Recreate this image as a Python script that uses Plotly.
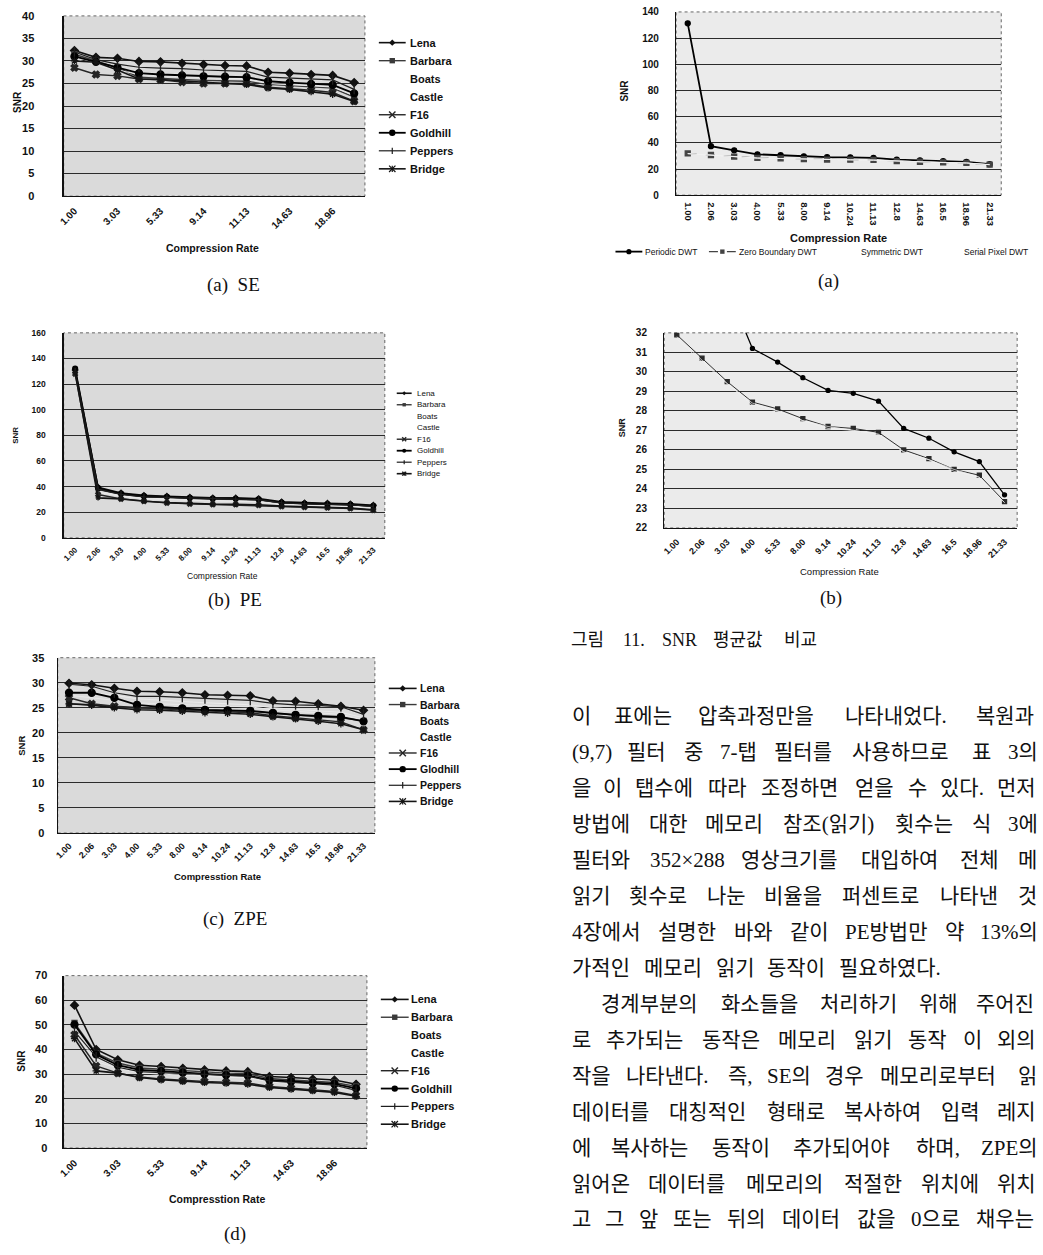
import plotly.graph_objects as go

W, H = 1043, 1255

# ---------------- data ----------------
rates = ["1.00", "2.06", "3.03", "4.00", "5.33", "8.00", "9.14",
         "10.24", "11.13", "12.8", "14.63", "16.5", "18.96", "21.33"]
images = ["Lena", "Barbara", "Boats", "Castle", "F16", "Goldhill", "Peppers", "Bridge"]
images_zpe_legend = ["Lena", "Barbara", "Boats", "Castle", "F16", "Glodhill", "Peppers", "Bridge"]
methods = ["Periodic DWT", "Zero Boundary DWT", "Symmetric DWT", "Serial Pixel DWT"]

# (a) SE
se_lena     = [32.3, 30.8, 30.6, 29.9, 29.8, 29.5, 29.2, 29.0, 28.9, 27.5, 27.3, 27.0, 26.8, 25.2]
se_barbara  = [31.5, 30.0, 28.5, 26.4, 26.1, 25.9, 25.7, 25.6, 25.5, 24.8, 24.5, 24.2, 24.0, 22.0]
se_boats    = [31.0, 29.5, 28.5, 27.5, 27.2, 27.0, 26.8, 26.6, 26.5, 25.4, 25.1, 24.8, 24.5, 22.6]
se_castle   = [30.5, 29.0, 28.0, 27.0, 26.8, 26.5, 26.3, 26.2, 26.0, 25.0, 24.8, 24.5, 24.2, 22.3]
se_f16      = [28.5, 27.0, 26.7, 26.0, 25.8, 25.3, 25.0, 25.0, 25.0, 24.2, 23.9, 23.5, 23.0, 21.1]
se_goldhill = [31.0, 29.8, 28.5, 27.3, 27.0, 26.8, 26.6, 26.5, 26.4, 25.5, 25.2, 24.9, 24.7, 22.8]
se_peppers  = [32.0, 30.3, 29.3, 28.6, 28.4, 28.3, 28.0, 27.9, 27.7, 26.4, 26.2, 25.9, 25.8, 23.7]
se_bridge   = [30.0, 29.7, 28.0, 26.0, 25.9, 25.6, 25.2, 25.0, 24.8, 24.0, 23.7, 23.2, 22.6, 21.0]

# (b) PE
pe_lena     = [131, 39.4, 35.0, 33.2, 32.5, 31.7, 31.2, 31.2, 30.7, 28.1, 27.3, 27.0, 26.5, 25.5]
pe_barbara  = [130, 37.6, 33.8, 31.7, 31.2, 30.4, 29.6, 29.6, 29.1, 26.5, 26.0, 25.5, 25.3, 24.0]
pe_boats    = [129, 36.5, 33.0, 31.0, 30.5, 29.8, 29.2, 29.0, 28.6, 26.2, 25.6, 25.1, 24.8, 23.6]
pe_castle   = [128, 35.5, 32.5, 30.5, 30.0, 29.3, 28.8, 28.6, 28.2, 25.9, 25.3, 24.8, 24.5, 23.2]
pe_f16      = [128, 33.8, 30.4, 28.6, 27.3, 26.5, 26.0, 26.0, 25.5, 24.5, 24.0, 23.5, 22.9, 21.6]
pe_goldhill = [132, 38.8, 34.5, 32.5, 32.0, 31.2, 30.6, 30.5, 30.0, 27.5, 26.8, 26.3, 26.0, 25.0]
pe_peppers  = [130, 38.0, 34.0, 32.0, 31.6, 31.0, 30.4, 30.2, 29.8, 27.3, 26.6, 26.2, 25.8, 24.6]
pe_bridge   = [129, 31.2, 30.4, 28.6, 27.5, 26.8, 26.3, 26.1, 25.8, 24.8, 24.2, 23.8, 23.2, 22.0]

# (c) ZPE
zpe_lena     = [29.9, 29.6, 28.9, 28.3, 28.2, 28.0, 27.6, 27.5, 27.4, 26.4, 26.3, 25.8, 25.3, 24.5]
zpe_barbara  = [25.8, 25.6, 25.2, 24.9, 25.0, 24.6, 24.5, 24.4, 24.3, 23.9, 23.5, 23.2, 23.0, 22.4]
zpe_boats    = [27.5, 27.0, 26.5, 26.0, 25.8, 25.6, 25.4, 25.3, 25.2, 24.6, 24.3, 24.0, 23.7, 22.6]
zpe_castle   = [28.5, 28.0, 27.5, 26.8, 26.5, 26.2, 26.0, 25.8, 25.6, 25.0, 24.7, 24.4, 24.1, 23.0]
zpe_f16      = [27.0, 25.8, 25.3, 25.0, 24.8, 24.6, 24.4, 24.3, 24.0, 23.4, 23.0, 22.6, 22.2, 20.6]
zpe_goldhill = [28.0, 28.0, 27.0, 25.6, 25.2, 24.9, 24.6, 24.5, 24.4, 24.0, 23.6, 23.4, 23.2, 22.3]
zpe_peppers  = [29.7, 29.3, 28.0, 27.3, 27.3, 27.1, 26.8, 26.6, 26.5, 25.9, 25.6, 25.5, 25.2, 23.7]
zpe_bridge   = [25.8, 25.5, 25.0, 24.6, 24.5, 24.3, 24.0, 23.9, 23.7, 23.2, 22.8, 22.3, 21.8, 20.6]

# (d)
d_lena     = [58.0, 40.0, 35.8, 33.6, 33.1, 32.4, 31.7, 31.3, 31.0, 29.0, 28.6, 28.0, 27.6, 25.9]
d_barbara  = [50.8, 38.5, 34.5, 32.5, 32.0, 31.5, 30.8, 30.4, 30.2, 28.2, 27.6, 27.0, 26.6, 25.0]
d_boats    = [48.0, 36.0, 33.0, 31.0, 30.5, 30.0, 29.5, 29.0, 28.8, 27.0, 26.5, 26.0, 25.5, 23.8]
d_castle   = [47.0, 35.0, 32.5, 30.5, 30.0, 29.5, 29.0, 28.7, 28.5, 26.8, 26.2, 25.6, 25.2, 23.5]
d_f16      = [46.0, 33.3, 30.4, 28.8, 28.0, 27.4, 27.0, 26.7, 26.4, 25.0, 24.3, 23.6, 23.0, 21.3]
d_goldhill = [50.1, 38.0, 33.6, 31.7, 31.2, 30.6, 30.0, 29.6, 29.4, 27.6, 27.0, 26.4, 26.0, 24.2]
d_peppers  = [47.4, 37.0, 32.8, 31.0, 30.6, 30.2, 29.8, 29.5, 29.2, 27.2, 26.6, 26.0, 25.5, 23.4]
d_bridge   = [44.4, 31.3, 30.4, 28.6, 27.7, 27.0, 26.6, 26.3, 25.9, 24.6, 23.9, 23.3, 22.6, 21.0]

# right column: average SNR per boundary method
dwt_periodic = [131.3, 37.4, 34.3, 31.2, 30.5, 29.7, 29.05, 28.9, 28.5, 27.1, 26.6, 25.9, 25.4, 23.7]
dwt_zero     = [31.9, 30.7, 29.5, 28.45, 28.1, 27.6, 27.2, 27.1, 26.9, 26.0, 25.55, 25.0, 24.7, 23.35]
dwt_symm     = [31.8, 30.6, 29.4, 28.4, 28.0, 27.5, 27.2, 27.0, 26.8, 25.9, 25.5, 25.0, 24.6, 23.3]
dwt_serial   = [31.7, 30.5, 29.4, 28.3, 28.0, 27.5, 27.1, 27.0, 26.8, 25.9, 25.5, 24.9, 24.6, 23.3]

body_lines = [
    "이 표에는 압축과정만을 나타내었다. 복원과",
    "(9,7) 필터 중 7-탭 필터를 사용하므로 표 3의",
    "을 이 탭수에 따라 조정하면 얻을 수 있다. 먼저",
    "방법에 대한 메모리 참조(읽기) 횟수는 식 3에",
    "필터와 352×288 영상크기를 대입하여 전체 메",
    "읽기 횟수로 나눈 비율을 퍼센트로 나타낸 것",
    "4장에서 설명한 바와 같이 PE방법만 약 13%의",
    "가적인 메모리 읽기 동작이 필요하였다.",
    "경계부분의 화소들을 처리하기 위해 주어진",
    "로 추가되는 동작은 메모리 읽기 동작 이 외의",
    "작을 나타낸다. 즉, SE의 경우 메모리로부터 읽",
    "데이터를 대칭적인 형태로 복사하여 입력 레지",
    "에 복사하는 동작이 추가되어야 하며, ZPE의",
    "읽어온 데이터를 메모리의 적절한 위치에 위치",
    "고 그 앞 또는 뒤의 데이터 값을 0으로 채우는",
]
figure_caption = "그림 11. SNR 평균값 비교"

# ---------------- layout helpers ----------------
def X(p):
    return p / W

def Y(p):
    return 1 - p / H

SANS = "Liberation Sans, Arial, sans-serif"
SERIF_KR = "Liberation Serif, Noto Sans CJK KR, serif"

fig = go.Figure()
axes = {}
shapes = []
annos = []

STYLE = {
    "Lena":     dict(color="#111111", width=1.6, symbol="diamond", msize=6, mk="diamond"),
    "Barbara":  dict(color="#3a3a3a", width=1.4, symbol="square", msize=5, mk="square"),
    "Boats":    dict(color="#e7e7e7", width=1.0, symbol=None, msize=0, mk=None),
    "Castle":   dict(color="#e9e9e9", width=1.0, symbol=None, msize=0, mk=None),
    "F16":      dict(color="#262626", width=1.4, symbol="x", msize=6, mk="x"),
    "Goldhill": dict(color="#000000", width=1.8, symbol="circle", msize=7, mk="circle"),
    "Peppers":  dict(color="#1e1e1e", width=1.2, symbol="line-ns-open", msize=7, mk="vbar"),
    "Bridge":   dict(color="#141414", width=1.6, symbol="asterisk-open", msize=6, mk="asterisk"),
    "Periodic DWT":      dict(color="#000000", width=1.8, symbol="circle", msize=5, mk="circle"),
    "Zero Boundary DWT": dict(color="#444444", width=1.2, symbol="square", msize=5, mk="square", dash="dash"),
    "Symmetric DWT":     dict(color="#efefef", width=1.0, symbol=None, msize=0, mk=None),
    "Serial Pixel DWT":  dict(color="#f1f1f1", width=1.0, symbol=None, msize=0, mk=None),
}


def add_axes(n, box, yrange, dtick, tickvals, tickangle, xfs, yfs, ystand, xstand, bg, bold=True):
    x0, x1, y0, y1 = box
    s = "" if n == 1 else str(n)
    wt = "bold" if bold else "normal"
    axes["xaxis" + s] = dict(
        domain=[X(x0), X(x1)], anchor="y" + s, type="category",
        categoryorder="array", categoryarray=rates, range=[-0.5, len(rates) - 0.5],
        tickmode="array", tickvals=tickvals, ticktext=tickvals, tickangle=tickangle,
        tickfont=dict(family=SANS, size=xfs, color="#111", weight=wt),
        showline=True, linecolor="#111", linewidth=1.2, showgrid=False,
        zeroline=False, ticks="", ticklabelstandoff=xstand, fixedrange=True)
    axes["yaxis" + s] = dict(
        domain=[Y(y1), Y(y0)], anchor="x" + s, range=yrange, dtick=dtick, tick0=yrange[0],
        tickfont=dict(family=SANS, size=yfs, color="#111", weight=wt),
        showline=True, linecolor="#111", linewidth=1.2, showgrid=True,
        gridcolor="#2b2b2b", gridwidth=1, zeroline=False, ticks="",
        ticklabelstandoff=ystand, fixedrange=True)
    shapes.append(dict(type="rect", xref="paper", yref="paper", x0=X(x0), x1=X(x1),
                       y0=Y(y1), y1=Y(y0), fillcolor=bg, line=dict(width=0), layer="below"))
    shapes.append(dict(type="rect", xref="paper", yref="paper", x0=X(x0), x1=X(x1),
                       y0=Y(y1), y1=Y(y0), fillcolor="rgba(0,0,0,0)",
                       line=dict(color="#666", width=1, dash="dot"), layer="below"))


def add_series(n, names, arrays, mscale=1.0, wscale=1.0, overrides=None):
    s = "" if n == 1 else str(n)
    overrides = overrides or {}
    for name, vals in zip(names, arrays):
        st = dict(STYLE[name])
        st.update(overrides.get(name, {}))
        mode = "lines+markers" if st["symbol"] else "lines"
        marker = dict()
        if st["symbol"]:
            marker = dict(symbol=st["symbol"], size=st["msize"] * mscale, color=st["color"],
                          line=dict(color=st["color"], width=1.3))
        fig.add_trace(go.Scatter(
            x=rates, y=vals, xaxis="x" + s, yaxis="y" + s, mode=mode, name=name,
            line=dict(color=st["color"], width=st["width"] * wscale, dash=st.get("dash", "solid")),
            marker=marker, showlegend=False, cliponaxis=True, hoverinfo="skip"))


def seg(xa, ya, xb, yb, color, width, dash="solid"):
    shapes.append(dict(type="line", xref="paper", yref="paper", x0=X(xa), y0=Y(ya),
                       x1=X(xb), y1=Y(yb), line=dict(color=color, width=width, dash=dash)))


def marker_shape(kind, cx, cy, color, r):
    if kind == "diamond":
        path = (f"M {X(cx)},{Y(cy - r)} L {X(cx + r)},{Y(cy)} L {X(cx)},{Y(cy + r)} "
                f"L {X(cx - r)},{Y(cy)} Z")
        shapes.append(dict(type="path", xref="paper", yref="paper", path=path,
                           fillcolor=color, line=dict(width=0)))
    elif kind == "square":
        shapes.append(dict(type="rect", xref="paper", yref="paper", x0=X(cx - r * 0.85),
                           x1=X(cx + r * 0.85), y0=Y(cy + r * 0.85), y1=Y(cy - r * 0.85),
                           fillcolor=color, line=dict(width=0)))
    elif kind == "circle":
        shapes.append(dict(type="circle", xref="paper", yref="paper", x0=X(cx - r),
                           x1=X(cx + r), y0=Y(cy + r), y1=Y(cy - r),
                           fillcolor=color, line=dict(width=0)))
    elif kind == "x":
        seg(cx - r, cy - r, cx + r, cy + r, color, 1.4)
        seg(cx - r, cy + r, cx + r, cy - r, color, 1.4)
    elif kind == "vbar":
        seg(cx, cy - r, cx, cy + r, color, 1.2)
    elif kind == "asterisk":
        seg(cx - r, cy - r, cx + r, cy + r, color, 1.2)
        seg(cx - r, cy + r, cx + r, cy - r, color, 1.2)
        seg(cx, cy - r, cx, cy + r, color, 1.2)


def legend_item(name, label, xs0, xs1, xt, y, fs, bold, r):
    st = STYLE[name]
    if st["mk"] is not None:
        seg(xs0, y, xs1, y, st["color"], max(1.2, st["width"]), st.get("dash", "solid"))
        marker_shape(st["mk"], (xs0 + xs1) / 2, y, st["color"], r)
    annos.append(dict(x=X(xt), y=Y(y), xref="paper", yref="paper", text=label,
                      showarrow=False, xanchor="left", yanchor="middle", borderpad=0,
                      font=dict(family=SANS, size=fs, color="#111",
                                weight="bold" if bold else "normal")))


def vlegend(names, labels, xs0, xs1, xt, ytop, dy, fs, bold, r):
    for i, (nm, lb) in enumerate(zip(names, labels)):
        legend_item(nm, lb, xs0, xs1, xt, ytop + i * dy, fs, bold, r)


def label(text, x, y, fs, bold=True, angle=0, family=SANS, color="#111"):
    annos.append(dict(x=X(x), y=Y(y), xref="paper", yref="paper", text=text,
                      showarrow=False, xanchor="center", yanchor="middle", textangle=angle,
                      font=dict(family=family, size=fs, color=color,
                                weight="bold" if bold else "normal")))


def char_w(ch):
    o = ord(ch)
    if 0xAC00 <= o <= 0xD7A3 or 0x3130 <= o <= 0x318F:
        return 1.0
    if ch.isdigit():
        return 0.5
    table = {"(": 0.333, ")": 0.333, ".": 0.25, ",": 0.25, "-": 0.333, "×": 0.564,
             "%": 0.833, "P": 0.556, "E": 0.611, "S": 0.556, "Z": 0.611, "N": 0.722,
             "R": 0.667}
    return table.get(ch, 0.5)


def place_words(text, y, x0, x1, fs, family=SERIF_KR, gap_em=0.45):
    words = text.split()
    widths = [sum(char_w(c) for c in w) * fs for w in words]
    if x1 is None or len(words) < 2:
        gap = gap_em * fs
    else:
        gap = (x1 - x0 - sum(widths)) / (len(words) - 1)
    x = x0
    for w, wd in zip(words, widths):
        annos.append(dict(x=X(x), y=Y(y), xref="paper", yref="paper", text=w,
                          showarrow=False, xanchor="left", yanchor="middle", borderpad=0,
                          font=dict(family=family, size=fs, color="#111")))
        x += wd + gap


# ---------------- charts ----------------
every_other = rates[0::2]

# (a) SE
add_axes(1, (58, 361, 10, 192), [0, 40], 5, every_other, -45, 10, 11, 26, 4, "#dadada")
add_series(1, images, [se_lena, se_barbara, se_boats, se_castle, se_f16,
                       se_goldhill, se_peppers, se_bridge])
vlegend(images, images, 375, 402, 405, 37, 18.2, 11, True, 3.2)
label("SNR", 11, 97, 10, True, -90)
label("Compression Rate", 208, 244, 10.5, True)
label("(a) \u00a0SE", 229, 282, 19, False, family="Liberation Serif")

# (b) PE
add_axes(2, (58, 381, 330, 537), [0, 160], 20, rates, -45, 8, 8.5, 15, 3, "#dadada")
add_series(2, images, [pe_lena, pe_barbara, pe_boats, pe_castle, pe_f16,
                       pe_goldhill, pe_peppers, pe_bridge], mscale=0.7)
vlegend(images, images, 393, 408, 412, 391, 11.6, 8, False, 2.0)
label("SNR", 10, 433, 8, True, -90)
label("Compression Rate", 218, 575, 8.5, False)
label("(b) \u00a0PE", 230, 600, 19, False, family="Liberation Serif")

# (c) ZPE
add_axes(3, (52, 371, 658, 835), [0, 35], 5, rates, -45, 9, 11, 10, 3, "#dadada")
add_series(3, images, [zpe_lena, zpe_barbara, zpe_boats, zpe_castle, zpe_f16,
                       zpe_goldhill, zpe_peppers, zpe_bridge])
vlegend(images, images_zpe_legend, 385, 413, 415, 689, 16.3, 10.5, True, 3.2)
label("SNR", 16, 747, 9.5, True, -90)
label("Compresstion Rate", 213, 879, 9.5, True)
label("(c) \u00a0ZPE", 230, 922, 19, False, family="Liberation Serif")

# (d)
add_axes(4, (58, 363, 979, 1153), [0, 70], 10, every_other, -45, 10, 11, 13, 4, "#dadada")
add_series(4, images, [d_lena, d_barbara, d_boats, d_castle, d_f16,
                       d_goldhill, d_peppers, d_bridge])
vlegend(images, images, 377, 405, 406, 1003, 18.0, 11, True, 3.2)
label("SNR", 16, 1065, 10, True, -90)
label("Compresstion Rate", 212, 1205, 10.5, True)
label("(d)", 230, 1240, 19, False, family="Liberation Serif")

# right (a)
add_axes(5, (674, 1001, 6, 191), [0, 140], 20, rates, 90, 9.5, 10, 14, 4, "#ebebeb")
add_series(5, methods, [dwt_periodic, dwt_zero, dwt_symm, dwt_serial])
for nm, xs in zip(methods, [613, 707, 830, 934]):
    legend_item(nm, nm, xs, xs + 27, xs + 29, 248, 8.5, False, 2.6)
label("SNR", 622, 85, 10, True, -90)
label("Compression Rate", 837, 234, 11, True)
label("(a)", 827, 278, 19, False, family="Liberation Serif")

# right (b)
add_axes(6, (662, 1017, 330, 527), [22, 32], 1, rates, -45, 9, 10, 14, 4, "#ebebeb")
add_series(6, methods, [dwt_periodic, dwt_zero, dwt_symm, dwt_serial], mscale=0.8, wscale=0.7,
           overrides={"Zero Boundary DWT": dict(color="#2a2a2a", dash="solid", width=1.4)})
label("SNR", 620, 425, 9, True, -90)
label("Compression Rate", 838, 571, 9.5, False)
label("(b)", 830, 598, 19, False, family="Liberation Serif")

# figure caption
place_words(figure_caption, 640, 567, 817, 18)

# body text (justified lines)
line_x0 = [568, 568, 568, 568, 568, 568, 568, 568, 597, 568, 568, 568, 568, 568, 568]
line_x1 = [1038, 1038, 1038, 1038, 1038, 1038, 1038, None, 1038, 1038, 1038, 1038,
           1038, 1038, 1038]
for i, (txt, xa, xb) in enumerate(zip(body_lines, line_x0, line_x1)):
    place_words(txt, 717 + 36.3 * i, xa, xb, 21)

fig.update_layout(
    width=W, height=H, margin=dict(l=0, r=0, t=0, b=0),
    paper_bgcolor="white", plot_bgcolor="rgba(0,0,0,0)",
    showlegend=False, shapes=shapes, annotations=annos, **axes)

fig.write_html("out.html", config={"displayModeBar": False, "staticPlot": True},
               post_script="document.body.style.margin='0';document.body.style.overflow='hidden';")
